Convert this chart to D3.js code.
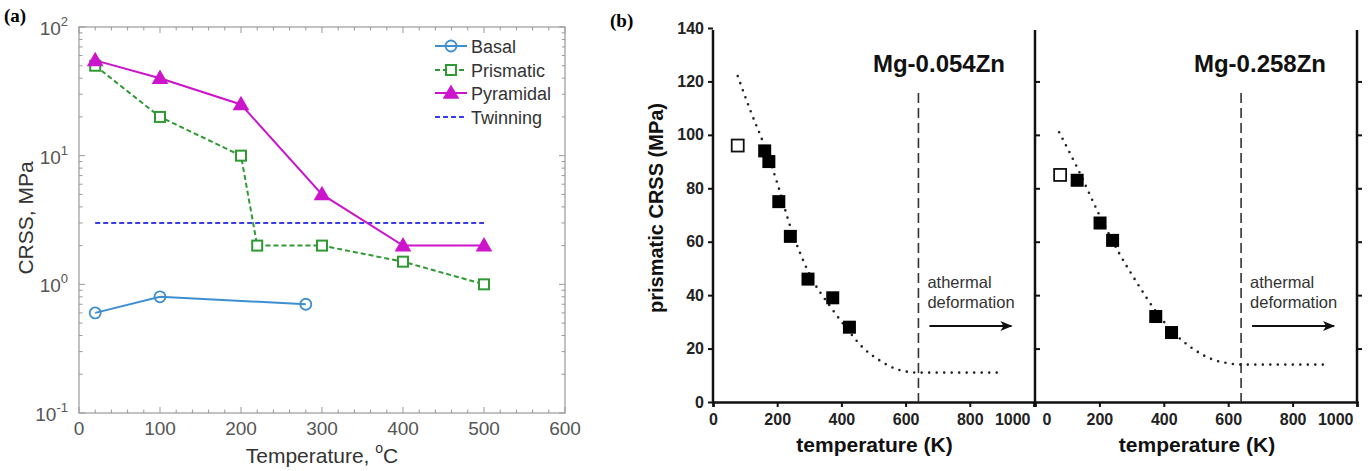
<!DOCTYPE html>
<html><head><meta charset="utf-8">
<script src="https://cdn.jsdelivr.net/npm/d3@7"></script>
<style>body{margin:0;background:#fff}svg{display:block}</style>
</head><body>
<svg id="c" width="1368" height="471"></svg>
<script>
// ---------- Panel (a) data ----------
const basalT = [20, 100, 280];
const basalV = [0.6, 0.8, 0.7];
const prismT = [20, 100, 200, 220, 300, 400, 500];
const prismV = [50, 20, 10, 2, 2, 1.5, 1];
const pyrT = [20, 100, 200, 300, 400, 500];
const pyrV = [55, 40, 25, 5, 2, 2];
const twinT = [20, 500];
const twinV = [3, 3];
const aXTicks = [0, 100, 200, 300, 400, 500, 600];
const aYTicks = [0.1, 1, 10, 100];
const aYTickLabels = ["-1", "0", "1", "2"];
const legendNames = ["Basal", "Prismatic", "Pyramidal", "Twinning"];

// ---------- Panel (b) data ----------
const b1OpenT = [77], b1OpenV = [96];
const b1T = [161, 174, 205, 241, 296, 373, 425];
const b1V = [94, 90, 75, 62, 46, 39, 28];
const b1FitT = [77, 120, 160, 200, 240, 300, 370, 420, 470, 520, 580, 640, 890];
const b1FitV = [122, 108, 96, 82, 66, 48, 35, 27, 20, 15.5, 12, 11, 11];
const b2OpenT = [78], b2OpenV = [85];
const b2T = [131, 202, 241, 375, 424];
const b2V = [83, 67, 60.5, 32, 26];
const b2FitT = [75, 130, 200, 260, 320, 375, 430, 490, 550, 600, 640, 900];
const b2FitV = [101, 88, 70, 56, 44, 34, 26, 20, 16, 14.5, 14, 14];
const bXTicks = [0, 200, 400, 600, 800, 1000];
const bYTicks = [0, 20, 40, 60, 80, 100, 120, 140];
const athermalT = 640;
const titles = ["Mg-0.054Zn", "Mg-0.258Zn"];

const svg = d3.select("#c");
const sans = "Liberation Sans, Arial, sans-serif";

// ================= Panel (a) =================
const ax = d3.scaleLinear().domain([0, 600]).range([79, 565]);
const ay = d3.scaleLog().domain([0.1, 100]).range([413, 27]);
const ga = svg.append("g");
const frameCol = "#999";
ga.append("rect").attr("x", 79).attr("y", 27).attr("width", 486).attr("height", 386)
  .attr("fill", "none").attr("stroke", frameCol).attr("stroke-width", 1.2);
const xMinor = d3.range(0, 601, 20);
xMinor.forEach(v => {
  const major = v % 100 === 0;
  const L = major ? 6 : 3.5;
  ga.append("line").attr("x1", ax(v)).attr("x2", ax(v)).attr("y1", 413).attr("y2", 413 - L).attr("stroke", frameCol);
  ga.append("line").attr("x1", ax(v)).attr("x2", ax(v)).attr("y1", 27).attr("y2", 27 + L).attr("stroke", frameCol);
});
const yMinor = [];
[0.1, 1, 10].forEach(d => { for (let k = 1; k <= 9; k++) yMinor.push(d * k); });
yMinor.push(100);
yMinor.forEach(v => {
  const major = Math.abs(Math.log10(v) - Math.round(Math.log10(v))) < 1e-9;
  const L = major ? 6 : 3.5;
  ga.append("line").attr("y1", ay(v)).attr("y2", ay(v)).attr("x1", 79).attr("x2", 79 + L).attr("stroke", frameCol);
  ga.append("line").attr("y1", ay(v)).attr("y2", ay(v)).attr("x1", 565).attr("x2", 565 - L).attr("stroke", frameCol);
});
const tickCol = "#555";
aXTicks.forEach(v => {
  ga.append("text").attr("x", ax(v)).attr("y", 435).attr("text-anchor", "middle")
    .attr("font-family", sans).attr("font-size", 19).attr("fill", tickCol).text(v);
});
aYTicks.forEach((v, i) => {
  const t = ga.append("text").attr("x", 68).attr("y", ay(v) + 8).attr("text-anchor", "end")
    .attr("font-family", sans).attr("font-size", 19).attr("fill", tickCol);
  t.append("tspan").text("10");
  t.append("tspan").attr("dy", -9).attr("font-size", 13).text(aYTickLabels[i]);
});
ga.append("text").attr("transform", "translate(33,218) rotate(-90)").attr("text-anchor", "middle")
  .attr("font-family", sans).attr("font-size", 21).attr("fill", "#333").text("CRSS, MPa");
const xl = ga.append("text").attr("x", 322).attr("y", 463).attr("text-anchor", "middle")
  .attr("font-family", sans).attr("font-size", 21).attr("fill", "#333");
xl.append("tspan").text("Temperature, ");
xl.append("tspan").attr("dy", -10).attr("font-size", 14).text("o");
xl.append("tspan").attr("dy", 10).text("C");
ga.append("text").attr("x", 4).attr("y", 22).attr("font-family", "Liberation Serif, Times New Roman, serif")
  .attr("font-weight", "bold").attr("font-size", 19).text("(a)");

const colBasal = "#3d8fd1", colPrism = "#2f9a34", colPyr = "#cc14cc", colTwin = "#3a3cf0";
const line = d3.line().x(d => ax(d[0])).y(d => ay(d[1]));
const zip = (a, b) => a.map((v, i) => [v, b[i]]);
ga.append("path").datum(zip(twinT, twinV)).attr("d", line).attr("fill", "none").attr("stroke", colTwin)
  .attr("stroke-width", 2).attr("stroke-dasharray", "5,3");
ga.append("path").datum(zip(basalT, basalV)).attr("d", line).attr("fill", "none").attr("stroke", colBasal).attr("stroke-width", 2);
ga.append("path").datum(zip(prismT, prismV)).attr("d", line).attr("fill", "none").attr("stroke", colPrism)
  .attr("stroke-width", 2).attr("stroke-dasharray", "5,3");
ga.append("path").datum(zip(pyrT, pyrV)).attr("d", line).attr("fill", "none").attr("stroke", colPyr).attr("stroke-width", 2);
function circ(g, x, y) { g.append("circle").attr("cx", x).attr("cy", y).attr("r", 5.5).attr("fill", "none").attr("stroke", colBasal).attr("stroke-width", 1.8); }
function sq(g, x, y) { g.append("rect").attr("x", x - 5).attr("y", y - 5).attr("width", 10).attr("height", 10).attr("fill", "#fff").attr("stroke", colPrism).attr("stroke-width", 2); }
function tri(g, x, y) { g.append("path").attr("d", d3.symbol(d3.symbolTriangle, 120)()).attr("transform", `translate(${x},${y + 1})`).attr("fill", colPyr); }
zip(basalT, basalV).forEach(d => circ(ga, ax(d[0]), ay(d[1])));
zip(prismT, prismV).forEach(d => sq(ga, ax(d[0]), ay(d[1])));
zip(pyrT, pyrV).forEach(d => tri(ga, ax(d[0]), ay(d[1])));
const lg = ga.append("g");
lg.append("rect").attr("x", 432).attr("y", 33).attr("width", 130).attr("height", 95).attr("fill", "#fff");
const ly = [46, 70, 93, 117];
const lcols = [colBasal, colPrism, colPyr, colTwin];
legendNames.forEach((n, i) => {
  const l = lg.append("line").attr("x1", 435).attr("x2", 467).attr("y1", ly[i]).attr("y2", ly[i]).attr("stroke", lcols[i]).attr("stroke-width", 2);
  if (i === 1 || i === 3) l.attr("stroke-dasharray", "5,3");
  if (i === 0) circ(lg, 451, ly[i]);
  if (i === 1) sq(lg, 451, ly[i]);
  if (i === 2) tri(lg, 451, ly[i]);
  lg.append("text").attr("x", 471).attr("y", ly[i] + 7).attr("font-family", sans)
    .attr("font-size", 18).attr("fill", "#333").text(n);
});

// ================= Panel (b) =================
const by = d3.scaleLinear().domain([0, 140]).range([402, 28]);
svg.append("text").attr("x", 610).attr("y", 27).attr("font-family", "Liberation Serif, Times New Roman, serif")
  .attr("font-weight", "bold").attr("font-size", 19).text("(b)");
svg.append("text").attr("transform", "translate(663,208) rotate(-90)").attr("text-anchor", "middle")
  .attr("font-family", sans).attr("font-weight", "bold").attr("font-size", 20).attr("fill", "#111").text("prismatic CRSS (MPa)");

const panels = [
  { x0: 713, x1: 1034, open: zip(b1OpenT, b1OpenV), fill: zip(b1T, b1V), fit: zip(b1FitT, b1FitV), title: titles[0], tx: 1005, leftTicksOut: true },
  { x0: 1035, x1: 1357, open: zip(b2OpenT, b2OpenV), fill: zip(b2T, b2V), fit: zip(b2FitT, b2FitV), title: titles[1], tx: 1326, leftTicksOut: false }
];
const defs = svg.append("defs");
defs.append("marker").attr("id", "arr").attr("viewBox", "0 0 12 10").attr("refX", 11).attr("refY", 5)
  .attr("markerWidth", 13).attr("markerHeight", 10).attr("markerUnits", "userSpaceOnUse").attr("orient", "auto")
  .append("path").attr("d", "M0,0 L12,5 L0,10 L3,5 Z").attr("fill", "#111");

panels.forEach((p, pi) => {
  const bx = d3.scaleLinear().domain([0, 1000]).range([p.x0, p.x1]);
  const g = svg.append("g");
  const xa = g.append("g").attr("transform", "translate(0,402)")
    .call(d3.axisBottom(bx).tickValues(bXTicks).tickFormat(d3.format("d")).tickSize(5).tickPadding(7));
  xa.select(".domain").attr("stroke-width", 2.5).attr("stroke", "#111");
  xa.selectAll(".tick line").attr("stroke-width", 2).attr("stroke", "#111");
  xa.selectAll("text").attr("font-family", sans).attr("font-weight", "bold").attr("font-size", 16).attr("fill", "#222");
  xa.selectAll(".tick").filter(d => d === 1000).select("text").attr("text-anchor", "end").attr("x", -4);
  if (pi === 1) xa.selectAll(".tick").filter(d => d === 0).select("text").attr("text-anchor", "start").attr("x", 7);
  const yAxis = p.leftTicksOut ? d3.axisLeft(by) : d3.axisRight(by);
  const ya = g.append("g").attr("transform", `translate(${p.x0},0)`).call(yAxis.tickValues(bYTicks).tickSize(5).tickPadding(4));
  ya.select(".domain").attr("stroke-width", 2.5).attr("stroke", "#111").attr("d", `M0,${by(140) + 2}V402`);
  ya.selectAll(".tick line").attr("stroke-width", 2).attr("stroke", "#111");
  if (p.leftTicksOut) {
    ya.selectAll("text").attr("font-family", sans).attr("font-weight", "bold").attr("font-size", 16).attr("fill", "#222");
  } else {
    ya.selectAll("text").remove();
    ya.selectAll(".tick").filter(d => d === 0 || d === 140).remove();
  }
  if (pi === 1) {
    const ra = g.append("g").attr("transform", `translate(${p.x1},0)`).call(d3.axisRight(by).tickValues(bYTicks).tickSize(5));
    ra.select(".domain").attr("stroke-width", 2.5).attr("stroke", "#111").attr("d", `M0,${by(140) + 2}V402`);
    ra.selectAll(".tick line").attr("stroke-width", 2).attr("stroke", "#111");
    ra.selectAll("text").remove();
    ra.selectAll(".tick").filter(d => d === 0 || d === 140).remove();
  }
  g.append("text").attr("x", (p.x0 + p.x1) / 2 + 1).attr("y", 452).attr("text-anchor", "middle")
    .attr("font-family", sans).attr("font-weight", "bold").attr("font-size", 21).attr("fill", "#111").text("temperature (K)");
  g.append("text").attr("x", p.tx).attr("y", 72).attr("text-anchor", "end")
    .attr("font-family", sans).attr("font-weight", "bold").attr("font-size", 24).attr("fill", "#111").text(p.title);
  g.append("line").attr("x1", bx(athermalT)).attr("x2", bx(athermalT)).attr("y1", 93).attr("y2", 402)
    .attr("stroke", "#333").attr("stroke-width", 1.6).attr("stroke-dasharray", "10,5");
  g.append("path").datum(p.fit).attr("d", d3.line().x(d => bx(d[0])).y(d => by(d[1])).curve(d3.curveMonotoneX))
    .attr("fill", "none").attr("stroke", "#222").attr("stroke-width", 2.6).attr("stroke-linecap", "round").attr("stroke-dasharray", "0,7.5");
  p.fill.forEach(d => g.append("rect").attr("x", bx(d[0]) - 6.5).attr("y", by(d[1]) - 6.5).attr("width", 13).attr("height", 13).attr("fill", "#000"));
  p.open.forEach(d => g.append("rect").attr("x", bx(d[0]) - 6).attr("y", by(d[1]) - 6).attr("width", 12).attr("height", 12).attr("fill", "#fff").attr("stroke", "#111").attr("stroke-width", 1.8));
  const ax0 = bx(athermalT) + 11;
  const t = g.append("text").attr("font-family", sans).attr("font-size", 16.5).attr("fill", "#333");
  t.append("tspan").attr("x", ax0 - 2).attr("y", 288).text("athermal");
  t.append("tspan").attr("x", ax0 - 2).attr("y", 308).text("deformation");
  g.append("line").attr("x1", ax0).attr("x2", ax0 + 82).attr("y1", 326).attr("y2", 326)
    .attr("stroke", "#111").attr("stroke-width", 2.2).attr("marker-end", "url(#arr)");
});
</script>
</body></html>
